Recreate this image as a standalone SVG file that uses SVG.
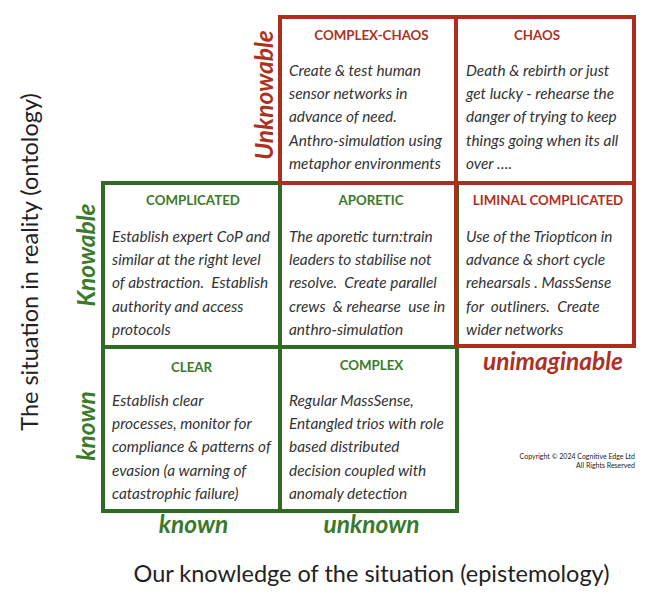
<svg xmlns="http://www.w3.org/2000/svg" width="652" height="600" viewBox="0 0 652 600">
<style>
.box{fill:none;stroke-width:4}
.g{stroke:#2F6B22}
.r{stroke:#AE2E1E}
.h{font-family:Lato,"Liberation Sans",sans-serif;font-weight:bold;font-size:13.3px;text-anchor:middle}
.hg{fill:#3A7A2A}
.hr{fill:#B0301F}
.b{font-family:Lato,"Liberation Sans",sans-serif;font-style:italic;font-size:15.4px;fill:#333;white-space:pre}
.ax{font-family:Lato,"Liberation Sans",sans-serif;font-style:italic;font-weight:bold;font-size:24.5px;text-anchor:middle}
.axg{fill:#3A7A2A}
.axr{fill:#B0301F}
.big{font-family:Lato,"Liberation Sans",sans-serif;font-size:23.5px;fill:#222;text-anchor:middle}
.cp{font-family:Lato,"Liberation Sans",sans-serif;font-size:7px;fill:#222;text-anchor:end}
</style>
<rect width="652" height="600" fill="#fff"/>
<g id="complicated">
<rect class="box g" x="103" y="183" width="177" height="164"/>
<text class="h hg" x="193" y="205">COMPLICATED</text>
<text class="b"><tspan x="112" y="241.7">Establish expert CoP and</tspan><tspan x="112" y="265">similar at the right level</tspan><tspan x="112" y="288.3">of abstraction.  Establish</tspan><tspan x="112" y="311.6">authority and access</tspan><tspan x="112" y="334.9">protocols</tspan></text>
</g>
<g id="aporetic">
<rect class="box g" x="280" y="183" width="177" height="164"/>
<text class="h hg" x="371" y="205">APORETIC</text>
<text class="b"><tspan x="289" y="241.7">The aporetic turn:train</tspan><tspan x="289" y="265">leaders to stabilise not</tspan><tspan x="289" y="288.3">resolve.  Create parallel</tspan><tspan x="289" y="311.6">crews  &amp; rehearse  use in</tspan><tspan x="289" y="334.9">anthro-simulation</tspan></text>
</g>
<g id="clear">
<rect class="box g" x="103" y="347" width="177" height="164"/>
<text class="h hg" x="191.5" y="371.5">CLEAR</text>
<text class="b"><tspan x="112" y="405.7">Establish clear</tspan><tspan x="112" y="429">processes, monitor for</tspan><tspan x="112" y="452.3">compliance &amp; patterns of</tspan><tspan x="112" y="475.6">evasion (a warning of</tspan><tspan x="112" y="498.9">catastrophic failure)</tspan></text>
</g>
<g id="complex">
<rect class="box g" x="280" y="347" width="177" height="164"/>
<text class="h hg" x="371.5" y="370">COMPLEX</text>
<text class="b"><tspan x="289" y="405.7">Regular MassSense,</tspan><tspan x="289" y="429">Entangled trios with role</tspan><tspan x="289" y="452.3">based distributed</tspan><tspan x="289" y="475.6">decision coupled with</tspan><tspan x="289" y="498.9">anomaly detection</tspan></text>
</g>
<g id="complex-chaos">
<rect class="box r" x="280" y="17" width="176" height="166"/>
<text class="h hr" x="371.5" y="39.5">COMPLEX-CHAOS</text>
<text class="b"><tspan x="289" y="75.7">Create &amp; test human</tspan><tspan x="289" y="99">sensor networks in</tspan><tspan x="289" y="122.3">advance of need.</tspan><tspan x="289" y="145.6">Anthro-simulation using</tspan><tspan x="289" y="168.9">metaphor environments</tspan></text>
</g>
<g id="chaos">
<rect class="box r" x="456" y="17" width="178" height="166"/>
<text class="h hr" x="537" y="39.5">CHAOS</text>
<text class="b"><tspan x="466" y="75.7">Death &amp; rebirth or just</tspan><tspan x="466" y="99">get lucky - rehearse the</tspan><tspan x="466" y="122.3">danger of trying to keep</tspan><tspan x="466" y="145.6">things going when its all</tspan><tspan x="466" y="168.9">over ….</tspan></text>
</g>
<g id="liminal-complicated">
<rect class="box r" x="456" y="183" width="178" height="163"/>
<text class="h hr" x="548" y="205">LIMINAL COMPLICATED</text>
<text class="b"><tspan x="466" y="241.7">Use of the Triopticon in</tspan><tspan x="466" y="265">advance &amp; short cycle</tspan><tspan x="466" y="288.3">rehearsals . MassSense</tspan><tspan x="466" y="311.6">for  outliners.  Create</tspan><tspan x="466" y="334.9">wider networks</tspan></text>
</g>
<g id="connectors"></g>
<g id="axis-labels">
<text class="ax axr" transform="translate(273,95) rotate(-90)">Unknowable</text>
<text class="ax axg" transform="translate(95,255) rotate(-90)">Knowable</text>
<text class="ax axg" transform="translate(95,426) rotate(-90)">known</text>
<text class="ax axg" x="193.5" y="533">known</text>
<text class="ax axg" x="371.5" y="533">unknown</text>
<text class="ax axr" x="553" y="370">unimaginable</text>
<text class="big" transform="translate(38,262) rotate(-90)">The situation in reality (ontology)</text>
<text class="big" x="371.5" y="582">Our knowledge of the situation (epistemology)</text>
<text class="cp" x="635" y="459">Copyright © 2024 Cognitive Edge Ltd</text>
<text class="cp" x="635" y="467.5">All Rights Reserved</text>
</g>
</svg>
